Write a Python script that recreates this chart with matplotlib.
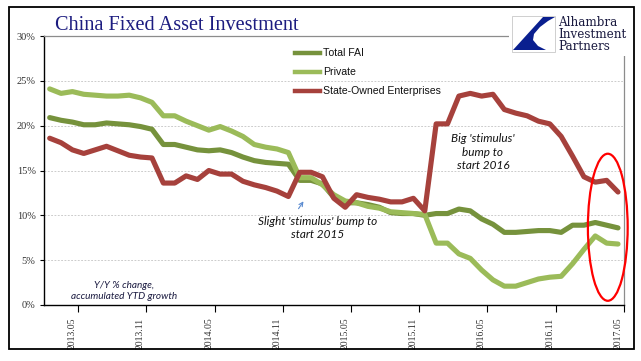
import matplotlib
matplotlib.use("Agg")
import matplotlib.pyplot as plt
from matplotlib.lines import Line2D
from matplotlib.patches import Ellipse, Rectangle, Polygon
import numpy as np

# ---------------- data ----------------
months = (["2013.%02d" % m for m in range(3, 13)] +
          ["2014.%02d" % m for m in range(1, 13)] +
          ["2015.%02d" % m for m in range(1, 13)] +
          ["2016.%02d" % m for m in range(1, 13)] +
          ["2017.%02d" % m for m in range(1, 6)])

total_fai = [20.9, 20.6, 20.4, 20.1, 20.1, 20.3, 20.2, 20.1, 19.9, 19.6,
             17.9, 17.9, 17.6, 17.3, 17.2, 17.3, 17.0, 16.5, 16.1, 15.9, 15.8, 15.7,
             13.9, 13.9, 13.5, 12.0, 11.4, 11.4, 11.2, 10.9, 10.3, 10.2, 10.2, 10.0,
             10.2, 10.2, 10.7, 10.5, 9.6, 9.0, 8.1, 8.1, 8.2, 8.3, 8.3, 8.1,
             8.9, 8.9, 9.2, 8.9, 8.6]

private = [24.1, 23.6, 23.8, 23.5, 23.4, 23.3, 23.3, 23.4, 23.1, 22.6,
           21.1, 21.1, 20.5, 20.0, 19.5, 19.9, 19.4, 18.8, 17.9, 17.6, 17.4, 17.0,
           14.2, 14.2, 13.4, 12.3, 11.6, 11.4, 11.0, 10.8, 10.4, 10.3, 10.2, 10.1,
           6.9, 6.9, 5.7, 5.2, 3.9, 2.8, 2.1, 2.1, 2.5, 2.9, 3.1, 3.2,
           4.6, 6.2, 7.7, 6.9, 6.8]

soe = [18.6, 18.1, 17.3, 16.9, 17.3, 17.7, 17.2, 16.7, 16.5, 16.4,
       13.6, 13.6, 14.4, 14.0, 15.0, 14.6, 14.6, 13.8, 13.4, 13.1, 12.7, 12.1,
       14.8, 14.8, 14.3, 11.9, 10.9, 12.3, 12.0, 11.8, 11.5, 11.5, 11.9, 10.5,
       20.2, 20.2, 23.3, 23.6, 23.3, 23.5, 21.8, 21.4, 21.1, 20.5, 20.2, 18.8,
       16.6, 14.3, 13.7, 13.9, 12.6]

series_names = ["Total FAI", "Private", "State-Owned Enterprises"]
series_colors = ["#76923C", "#9BBB59", "#A6413C"]
y_ticks = [0, 5, 10, 15, 20, 25, 30]
y_tick_labels = ["0%", "5%", "10%", "15%", "20%", "25%", "30%"]
label_step = 6
first_label = 2

# ---------------- figure ----------------
W, H = 641, 361
fig = plt.figure(figsize=(W / 100, H / 100), dpi=100)
fig.patch.set_facecolor("white")

def fx(x):
    return x / W

def fy(y):
    return 1 - y / H

ax = fig.add_axes([fx(44), fy(305), fx(623.7) - fx(44), fy(36) - fy(305)])
x = np.arange(len(months))

for vals, col, z in zip([total_fai, private, soe], series_colors, [3, 4, 5]):
    ax.plot(x, vals, color=col, lw=3.7, solid_capstyle="round",
            solid_joinstyle="round", zorder=z)

ax.set_xlim(-0.5, len(months) - 0.5)
ax.set_ylim(0, 30)

# y axis
ax.set_yticks(y_ticks)
ax.set_yticklabels(y_tick_labels, family="Liberation Serif", fontsize=7.5, color="#333333")
ax.tick_params(axis="y", direction="out", length=3, width=0.8, pad=3, color="black")
for yv in y_ticks[1:-1]:
    ax.axhline(yv, color="#c4c4c4", lw=0.6, ls=(0, (2.2, 1.8)), zorder=1)

# x axis: tick marks at category boundaries, labels at category centers
lab_idx = list(range(first_label, len(months), label_step))
ax.set_xticks([i + 0.5 for i in lab_idx])
ax.set_xticklabels([])
ax.tick_params(axis="x", which="major", direction="out", length=5, width=0.8, color="black")
ax.set_xticks(lab_idx, minor=True)
ax.set_xticklabels([months[i] for i in lab_idx], minor=True, rotation=90,
                   family="Liberation Serif", fontsize=7, color="#333333")
ax.tick_params(axis="x", which="minor", length=0, pad=9)

for s in ["left", "bottom"]:
    ax.spines[s].set_color("black")
    ax.spines[s].set_linewidth(1.0)
for s in ["top", "right"]:
    ax.spines[s].set_color("#8c8c8c")
    ax.spines[s].set_linewidth(0.9)

# red ellipse highlight
ax.add_patch(Ellipse((49.1, 8.67), 3.5, 16.4, fill=False, ec="#FF0000", lw=1.6,
                     zorder=6, clip_on=False))

# ---------------- overlays ----------------
# logo box (white, covers part of plot frame)
fig.add_artist(Rectangle((fx(509), fy(56)), fx(633) - fx(509), fy(8) - fy(56),
                         transform=fig.transFigure, fc="white", ec="none", zorder=10))
fig.add_artist(Rectangle((fx(512), fy(52)), fx(555) - fx(512), fy(16) - fy(52),
                         transform=fig.transFigure, fc="white", ec="#c8c8c8", lw=0.6, zorder=11))
logo_pts = [(543, 17), (555, 17), (548, 21), (540, 27), (534, 34), (533, 40),
            (538, 46), (546, 50), (513, 50)]
fig.add_artist(Polygon([(fx(a), fy(b)) for a, b in logo_pts], closed=True,
                       transform=fig.transFigure, fc="#0A1F8F", ec="none", zorder=12))
for i, w in enumerate(["Alhambra", "Investment", "Partners"]):
    fig.text(fx(558), fy(23 + i * 12), w, family="DejaVu Serif", fontsize=8.6,
             color="#1a1a40", va="center", ha="left", zorder=12)

# title
fig.text(fx(55), fy(30), "China Fixed Asset Investment", family="Liberation Serif",
         fontsize=14.6, color="#1C1C80", ha="left", va="baseline")

# legend (manual)
leg_y = [52.7, 71.7, 90.7]
for name, col, yy in zip(series_names, series_colors, leg_y):
    fig.add_artist(Line2D([fx(295), fx(320)], [fy(yy), fy(yy)], color=col, lw=3.2,
                          transform=fig.transFigure, zorder=7))
    fig.text(fx(323), fy(yy), name, family="Liberation Sans", fontsize=7.6,
             color="#111111", va="center", ha="left", zorder=7)

# annotations
fig.text(fx(318), fy(228), "Slight 'stimulus' bump to\nstart 2015", family="Lato",
         style="italic", fontsize=8.5, color="#111111", ha="center", va="center",
         linespacing=1.3)
fig.text(fx(483), fy(152), "Big 'stimulus'\nbump to\nstart 2016", family="Lato",
         style="italic", fontsize=8.5, color="#111111", ha="center", va="center",
         linespacing=1.3)
fig.text(fx(124), fy(291), "Y/Y % change,\naccumulated YTD growth", family="Lato",
         style="italic", fontsize=7.2, color="#1a1a40", ha="center", va="center",
         linespacing=1.35)

# small blue arrow
fig.add_artist(matplotlib.patches.FancyArrowPatch((fx(297), fy(211)), (fx(305), fy(199)),
               transform=fig.transFigure, arrowstyle="->", mutation_scale=7,
               color="#5B8BD0", lw=0.8, zorder=8))

# outer frame
fig.add_artist(Rectangle((fx(9), fy(349)), fx(634) - fx(9), fy(7) - fy(349),
                         transform=fig.transFigure, fill=False, ec="black", lw=1.3, zorder=20))

fig.savefig("out.png", dpi=100)
